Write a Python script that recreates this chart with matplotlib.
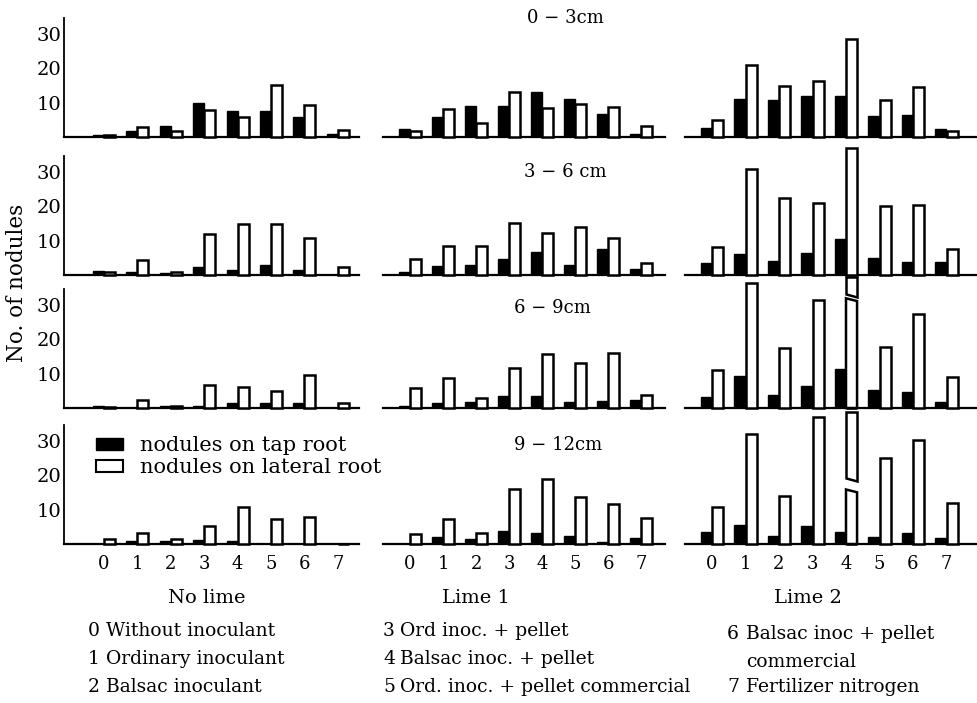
import matplotlib
matplotlib.use('Agg')
import matplotlib.pyplot as plt
from matplotlib.patches import Patch, Polygon
import numpy as np

plt.rcParams['font.family'] = ['DejaVu Serif', 'DejaVu Sans']

# ---------------- data ----------------
treatments = [0, 1, 2, 3, 4, 5, 6, 7]
depth_labels = ['0 − 3cm', '3 − 6 cm', '6 − 9cm', '9 − 12cm']
lime_labels = ['No lime', 'Lime 1', 'Lime 2']

# nodules on tap root  [No lime, Lime 1, Lime 2]
tap_0_3 = [[0.7, 1.8, 3.1, 9.9, 7.4, 7.6, 5.7, 1.0],
           [2.3, 5.9, 8.9, 9.0, 13.0, 10.9, 6.8, 0.9],
           [2.5, 10.9, 10.7, 12.0, 11.9, 6.0, 6.3, 2.2]]
tap_3_6 = [[1.2, 1.0, 0.6, 2.3, 1.4, 3.0, 1.4, 0.0],
           [1.0, 2.5, 2.8, 4.6, 6.8, 3.0, 7.4, 1.8],
           [3.4, 6.0, 4.1, 6.3, 10.5, 4.9, 3.9, 3.9]]
tap_6_9 = [[0.5, 0.0, 0.5, 0.6, 1.4, 1.4, 1.5, 0.0],
           [0.6, 1.4, 1.7, 3.5, 3.6, 1.7, 2.0, 2.2],
           [3.1, 9.2, 3.8, 6.4, 11.4, 5.3, 4.5, 1.8]]
tap_9_12 = [[0.0, 0.8, 1.0, 1.3, 1.0, 0.0, 0.0, 0.0],
            [0.0, 2.1, 1.5, 3.7, 3.2, 2.3, 0.6, 1.6],
            [3.5, 5.4, 2.4, 5.2, 3.5, 2.0, 3.1, 1.8]]

# nodules on lateral root [No lime, Lime 1, Lime 2]
lat_0_3 = [[0.5, 2.8, 1.8, 7.9, 5.7, 15.2, 9.4, 2.0],
           [1.8, 8.0, 4.1, 13.0, 8.5, 9.5, 8.7, 3.2],
           [4.9, 20.8, 14.9, 16.2, 28.5, 10.7, 14.6, 1.8]]
lat_3_6 = [[1.0, 4.4, 0.9, 11.8, 14.9, 14.8, 10.8, 2.3],
           [4.5, 8.3, 8.5, 15.0, 12.1, 13.8, 10.8, 3.5],
           [8.2, 30.6, 22.2, 20.9, 36.8, 20.0, 20.4, 7.6]]
lat_6_9 = [[0.3, 2.4, 0.5, 6.8, 6.0, 5.0, 9.5, 1.4],
           [5.8, 8.6, 2.8, 11.5, 15.6, 13.0, 15.9, 3.8],
           [11.1, 36.2, 17.3, 31.4, 38.0, 17.7, 27.3, 9.1]]
lat_9_12 = [[1.4, 3.1, 1.4, 5.3, 10.6, 7.2, 7.7, 0.0],
            [3.0, 7.2, 3.3, 15.9, 18.9, 13.6, 11.5, 7.5],
            [10.6, 31.8, 14.0, 36.7, 38.3, 24.9, 30.2, 11.9]]

tap_all = [tap_0_3, tap_3_6, tap_6_9, tap_9_12]
lat_all = [lat_0_3, lat_3_6, lat_6_9, lat_9_12]

# broken lateral bars: (depth, lime, treatment, lower top, upper bottom)
broken_bars = [(2, 2, 4, 31.4, 32.7),
               (3, 2, 4, 15.4, 18.7)]

key_left = [('0', 'Without inoculant'), ('1', 'Ordinary inoculant'), ('2', 'Balsac inoculant')]
key_mid = [('3', 'Ord inoc. + pellet'), ('4', 'Balsac inoc. + pellet'),
           ('5', 'Ord. inoc. + pellet commercial')]
key_right = [('6', 'Balsac inoc + pellet'), ('', 'commercial'), ('7', 'Fertilizer nitrogen')]

# ---------------- layout ----------------
W, H = 977, 703
fig = plt.figure(figsize=(W / 100, H / 100), dpi=100)

col_lr = [(64, 359), (383, 665), (685, 977)]
col_tick0 = [104, 410, 712]
col_step = [33.4, 33.0, 33.5]
row_base = [137, 275, 408, 544]
row_h = 119
ymax = 34.5
bw = 0.33
slant = 0.8

axes = []
for r in range(4):
    for c in range(3):
        l, rr = col_lr[c]
        ax = fig.add_axes([l / W, (H - row_base[r]) / H, (rr - l) / W, row_h / H])
        x0 = -(col_tick0[c] - l) / col_step[c]
        x1 = x0 + (rr - l) / col_step[c]
        ax.set_xlim(x0, x1)
        ax.set_ylim(0, ymax)
        x = np.array(treatments, dtype=float)
        tap = tap_all[r][c]
        lat = list(lat_all[r][c])
        brk = [b for b in broken_bars if b[0] == r and b[1] == c]
        for b in brk:
            lat[b[2]] = 0
        ax.bar(x - bw / 2, tap, bw, color='black', edgecolor='black', lw=1.0, zorder=3)
        ax.bar(x + bw / 2, lat, bw, facecolor='white', edgecolor='black', lw=1.8,
               zorder=3, clip_on=False)
        for b in brk:
            t = b[2]
            full = lat_all[r][c][t]
            xl, xr = t, t + bw
            lower = Polygon([(xl, 0), (xl, b[3] + slant / 2), (xr, b[3] - slant / 2), (xr, 0)],
                            closed=True, facecolor='white', edgecolor='black', lw=1.8,
                            zorder=3, clip_on=False)
            upper = Polygon([(xl, b[4] + slant / 2), (xl, full), (xr, full), (xr, b[4] - slant / 2)],
                            closed=True, facecolor='white', edgecolor='black', lw=1.8,
                            zorder=3, clip_on=False)
            ax.add_patch(lower)
            ax.add_patch(upper)
        for s in ['top', 'right']:
            ax.spines[s].set_visible(False)
        ax.spines['bottom'].set_linewidth(1.6)
        if c == 0:
            ax.spines['left'].set_linewidth(1.3)
            ax.set_yticks([10, 20, 30])
            ax.tick_params(axis='y', length=0, labelsize=14, pad=2)
        else:
            ax.spines['left'].set_visible(False)
            ax.set_yticks([])
        ax.set_xticks(treatments)
        if r == 3:
            ax.tick_params(axis='x', length=0, labelsize=13, pad=8)
        else:
            ax.tick_params(axis='x', length=0, labelbottom=False)
        ax.set_facecolor('none')
        axes.append(ax)

# depth labels
depth_pos = [(565, 18), (565, 172), (552, 308), (558, 445)]
for (px, py), txt in zip(depth_pos, depth_labels):
    fig.text(px / W, 1 - py / H, txt, ha='center', va='center', fontsize=13)

# lime labels
lime_pos = [(207, 598), (476, 598), (808, 598)]
for (px, py), txt in zip(lime_pos, lime_labels):
    fig.text(px / W, 1 - py / H, txt, ha='center', va='center', fontsize=14)

# y label
fig.text(17 / W, 1 - 283 / H, 'No. of nodules', rotation=90, ha='center', va='center', fontsize=15.5)

# legend
leg_ax = axes[9]
handles = [Patch(facecolor='black', edgecolor='black'),
           Patch(facecolor='white', edgecolor='black', lw=1.5)]
leg = leg_ax.legend(handles, ['nodules on tap root', 'nodules on lateral root'],
                    loc='upper left', bbox_to_anchor=(96 / W, 1 - 436 / H),
                    bbox_transform=fig.transFigure, frameon=False, fontsize=15,
                    handlelength=1.3, handleheight=0.5, handletextpad=0.8,
                    labelspacing=0.15, borderpad=0, borderaxespad=0)

# treatment key
def put_keys(keys, xn, xt, ys):
    for (n, t), y in zip(keys, ys):
        if n:
            fig.text(xn / W, 1 - y / H, n, ha='left', va='center', fontsize=13.5)
        fig.text(xt / W, 1 - y / H, t, ha='left', va='center', fontsize=13.5)

put_keys(key_left, 88, 106, [631, 659, 687])
put_keys(key_mid, 383, 400, [631, 659, 687])
put_keys(key_right, 727, 746, [634, 662, 687])

fig.savefig('out.png', dpi=100)
